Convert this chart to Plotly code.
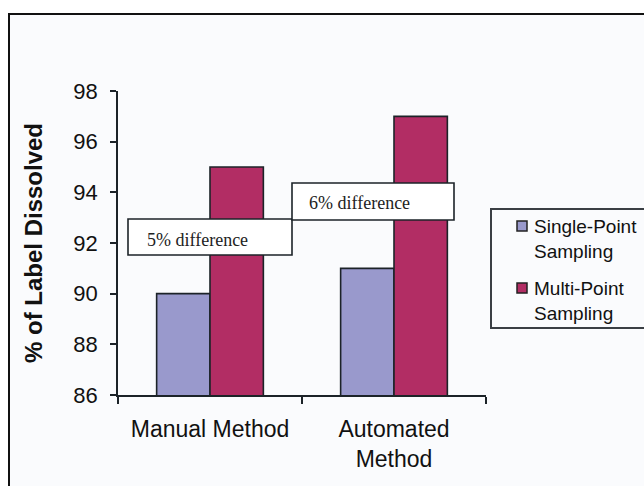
import plotly.graph_objects as go

# Dissolution results by sampling approach
methods = ["Manual Method", "Automated<br>Method"]
single_point = [90, 91]
multi_point = [95, 97]
series_names = ["Single-Point<br>Sampling", "Multi-Point<br>Sampling"]
series_colors = ["#9999CC", "#B22D64"]
diff_labels = ["5% difference", "6% difference"]
y_ticks = [86, 88, 90, 92, 94, 96, 98]

W, H = 644, 486
L, R, T, B = 118, 158, 91, 91
PW, PH = W - L - R, H - T - B


def px_x(p):
    return (p - L) / PW


def px_y(p):
    return (H - B - p) / PH


INK = "#1c2328"
TEXT = "#111111"
SANS = "Liberation Sans, Arial, sans-serif"
SERIF = "Liberation Serif, Times New Roman, serif"

fig = go.Figure()
for name, vals, col in zip(series_names, [single_point, multi_point], series_colors):
    fig.add_trace(go.Bar(
        x=methods, y=vals, name=name,
        marker=dict(color=col, line=dict(color=INK, width=1.6)),
    ))

fig.update_layout(
    width=W, height=H,
    margin=dict(l=L, r=R, t=T, b=B, pad=0, autoexpand=False),
    paper_bgcolor="white",
    plot_bgcolor="rgba(0,0,0,0)",
    barmode="group", bargap=0.42, bargroupgap=0,
    font=dict(family=SANS, color=TEXT),
    showlegend=False,
)

fig.update_yaxes(
    range=[86, 98], tickvals=y_ticks,
    showgrid=False, zeroline=False,
    showline=True, linecolor=INK, linewidth=1.6,
    ticks="outside", ticklen=6, tickwidth=1.6, tickcolor=INK,
    tickfont=dict(family=SANS, size=22, color=TEXT),
    ticklabelstandoff=8,
    title=dict(text="<b>% of Label Dissolved</b>", standoff=24,
               font=dict(family=SANS, size=24, color=TEXT)),
)
fig.update_xaxes(
    range=[-0.5, 1.5],
    showgrid=False, zeroline=False,
    showline=True, linecolor=INK, linewidth=1.6,
    ticks="outside", tickson="boundaries", ticklen=7, tickwidth=1.6, tickcolor=INK,
    tickfont=dict(family=SANS, size=23, color=TEXT),
    ticklabelstandoff=13,
)

# outer frame around the figure, open to the right and bottom
fig.add_shape(type="rect", xref="paper", yref="paper",
              x0=px_x(9), x1=px_x(700), y0=px_y(540), y1=px_y(14),
              line=dict(color=TEXT, width=2), fillcolor="#FAFBFD",
              layer="below")

# difference call-out boxes
boxes = [(128, 292, 219, 255, 145, 240), (292, 454, 183, 220, 307, 203)]
for text, (x0, x1, y0, y1, tx, ty) in zip(diff_labels, boxes):
    fig.add_shape(type="rect", xref="paper", yref="paper",
                  x0=px_x(x0), x1=px_x(x1), y0=px_y(y1), y1=px_y(y0),
                  line=dict(color=INK, width=1.6), fillcolor="white",
                  layer="above")
    fig.add_annotation(xref="paper", yref="paper", x=px_x(tx), y=px_y(ty),
                       xanchor="left", yanchor="middle", showarrow=False,
                       text=text, font=dict(family=SERIF, size=18, color="#222222"))

# legend panel, running off the right edge
fig.add_shape(type="rect", xref="paper", yref="paper",
              x0=px_x(491), x1=px_x(700), y0=px_y(328), y1=px_y(209),
              line=dict(color="#3a3f44", width=2), fillcolor="rgba(0,0,0,0)",
              layer="above")
for i, (name, col) in enumerate(zip(series_names, series_colors)):
    cy = 226 + i * 62
    fig.add_shape(type="rect", xref="paper", yref="paper",
                  x0=px_x(517), x1=px_x(527), y0=px_y(cy + 5), y1=px_y(cy - 5),
                  line=dict(color="#222222", width=1.5), fillcolor=col,
                  layer="above")
    fig.add_annotation(xref="paper", yref="paper", x=px_x(532), y=px_y(cy - 12),
                       xanchor="left", yanchor="top", showarrow=False, align="left",
                       text=name, font=dict(family=SANS, size=19, color=TEXT))

fig.write_html("out.html")
